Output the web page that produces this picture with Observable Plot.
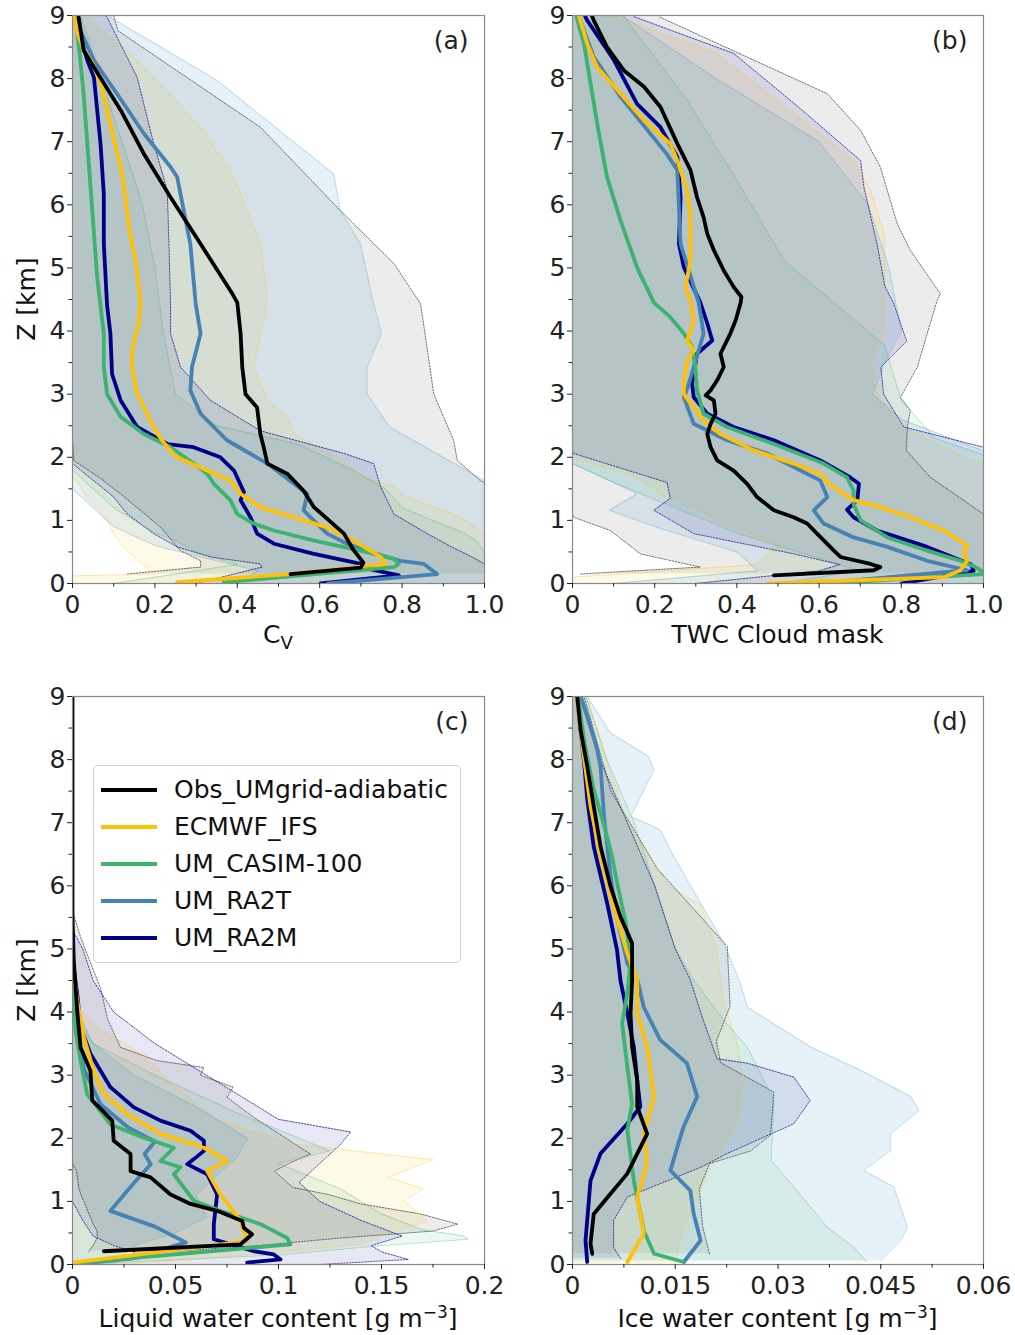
<!DOCTYPE html>
<html><head><meta charset="utf-8">
<script src="https://cdn.jsdelivr.net/npm/d3@7"></script>
<script src="https://cdn.jsdelivr.net/npm/@observablehq/plot@0.6"></script>
<style>
body{margin:0;background:#fff;font-family:"DejaVu Sans",sans-serif;}
#fig{position:relative;width:1015px;height:1335px;overflow:hidden;}
.panel{position:absolute;}
svg{overflow:visible;}
#legend{position:absolute;left:93px;top:765px;width:366px;height:196px;border:1px solid #d4d4d4;border-radius:5px;background:rgba(255,255,255,0.82);font-family:"DejaVu Sans",sans-serif;font-size:25px;color:#111;}
.lrow{position:absolute;left:0;height:30px;line-height:30px;white-space:nowrap;}
.lrow svg{position:absolute;left:7px;top:11px;}
.lrow span{position:absolute;left:80px;}
</style></head><body><div id="fig"></div><script>
// ---------- series ----------
const seriesNames = ["Obs_UMgrid-adiabatic","ECMWF_IFS","UM_CASIM-100","UM_RA2T","UM_RA2M"];
const seriesColors = ["#000000","#FFC107","#3CB371","#4682B4","#00008B"];
const bandFills = ["#000000","#FFC107","#3CB371","#3A9CC4","#00008B"];
const bandOpacity = [0.075,0.095,0.095,0.13,0.09];

// ---------- ticks ----------
const yMajor = [0,1,2,3,4,5,6,7,8,9];
const yMinor = [0.5,1.5,2.5,3.5,4.5,5.5,6.5,7.5,8.5];
const xTicksAB = [0,0.2,0.4,0.6,0.8,1.0];
const xLabelsAB = ["0","0.2","0.4","0.6","0.8","1.0"];
const xMinorAB = [0.1,0.3,0.5,0.7,0.9];
const xTicksC = [0,0.05,0.1,0.15,0.2];
const xLabelsC = ["0","0.05","0.1","0.15","0.2"];
const xMinorC = [0.025,0.075,0.125,0.175];
const xTicksD = [0,0.015,0.03,0.045,0.06];
const xLabelsD = ["0","0.015","0.03","0.045","0.06"];
const xMinorD = [0.0075,0.0225,0.0375,0.0525];

// ---------- panel (a): Cv, lines [value, Z km] ----------
const aObs = [[0.529,0.15],[0.70,0.25],[0.706,0.33],[0.68,0.55],[0.659,0.79],[0.586,1.21],[0.561,1.47],[0.521,1.74],[0.473,1.9],[0.464,2.16],[0.456,2.37],[0.448,2.79],[0.42,3.0],[0.412,3.43],[0.408,3.96],[0.40,4.45],[0.388,4.59],[0.311,5.38],[0.238,6.12],[0.173,6.81],[0.117,7.5],[0.052,8.18],[0.027,8.45],[0.015,8.97]];
const aIFS = [[0.254,0.02],[0.529,0.15],[0.76,0.31],[0.748,0.42],[0.683,0.68],[0.618,0.89],[0.537,1.05],[0.456,1.21],[0.408,1.42],[0.383,1.63],[0.327,1.79],[0.254,2.0],[0.23,2.16],[0.206,2.37],[0.181,2.69],[0.157,3.0],[0.145,3.43],[0.145,3.69],[0.161,4.12],[0.165,4.48],[0.153,5.11],[0.137,5.64],[0.125,6.31],[0.113,6.71],[0.093,7.25],[0.069,7.92],[0.048,8.25],[0.028,8.45],[0.012,8.72],[0.004,8.98]];
const aCASIM = [[0.367,0.02],[0.78,0.26],[0.792,0.31],[0.78,0.39],[0.699,0.52],[0.586,0.68],[0.489,0.84],[0.44,0.95],[0.40,1.1],[0.383,1.32],[0.343,1.58],[0.327,1.74],[0.294,1.9],[0.238,2.16],[0.173,2.37],[0.117,2.64],[0.084,3.0],[0.076,3.43],[0.076,3.96],[0.068,4.4],[0.06,4.85],[0.048,5.91],[0.036,6.97],[0.027,7.76],[0.019,8.29],[0.011,8.76],[0.007,8.97]];
const aRA2T = [[0.62,0.0],[0.885,0.15],[0.853,0.31],[0.796,0.36],[0.72,0.5],[0.66,0.65],[0.618,0.79],[0.561,1.16],[0.57,1.42],[0.473,1.9],[0.375,2.27],[0.311,2.69],[0.286,3.06],[0.29,3.43],[0.311,3.96],[0.299,4.43],[0.286,5.38],[0.254,6.44],[0.238,6.6],[0.173,7.13],[0.108,7.76],[0.052,8.29],[0.019,8.76],[0.007,9.0]];
const aRA2M = [[0.602,0.0],[0.792,0.13],[0.699,0.26],[0.70,0.31],[0.586,0.47],[0.489,0.63],[0.448,0.79],[0.432,1.05],[0.408,1.32],[0.416,1.45],[0.392,1.79],[0.359,2.0],[0.294,2.16],[0.23,2.21],[0.157,2.48],[0.117,2.9],[0.096,3.32],[0.092,3.96],[0.084,4.4],[0.076,5.38],[0.076,6.17],[0.068,6.97],[0.052,8.02],[0.036,8.29],[0.019,8.66],[0.007,8.97]];
// bands [Z km, lower, upper]
const aObsBand = [[0.15,0.133,1],[0.26,0.311,1],[0.36,0.311,1],[0.52,0.262,1],[0.89,0.214,1],[1.42,0.117,1],[1.6,0.08,1],[1.63,0.076,0.99],[1.95,0.003,0.934],[2.27,0,0.925],[3.0,0,0.877],[4.43,0,0.845],[5.07,0,0.78],[5.91,0,0.65],[7.23,0,0.456],[8.76,0,0.11],[9,0,0.1]];
const aIFSBand = [[0,0,1],[0.12,0,1],[0.15,0.2,1],[0.3,0.17,1],[0.6,0.12,1],[0.79,0.1,1],[1.05,0.08,0.942],[1.4,0.03,0.8],[1.53,0.02,0.78],[1.7,0,0.7],[1.95,0,0.659],[2.37,0,0.537],[2.64,0,0.521],[2.9,0,0.473],[3.43,0,0.44],[3.96,0,0.456],[4.48,0,0.473],[5.38,0,0.456],[6.44,0,0.392],[7.23,0,0.311],[8.45,0,0.133],[9,0,0.03]];
const aCASIMBand = [[0,0.1,1],[0.3,0.4,1],[0.5,0.3,1],[0.68,0.25,0.98],[0.8,0.2,0.95],[1.2,0.1,0.8],[1.5,0.05,0.76],[1.8,0,0.68],[2.2,0,0.55],[2.5,0,0.35],[3.0,0,0.25],[4.0,0,0.22],[5.0,0,0.2],[6.0,0,0.17],[7.0,0,0.12],[8.0,0,0.07],[9,0,0.02]];
const aRA2TBand = [[0,0.4,1],[0.2,0.45,1],[0.36,0.35,1],[0.6,0.2,1],[0.9,0.1,1],[1.2,0.05,1],[1.5,0,1],[1.63,0,1.0],[2.48,0,0.77],[3.0,0,0.715],[3.43,0,0.715],[3.96,0,0.75],[4.43,0,0.731],[5.38,0,0.699],[5.91,0,0.65],[6.49,0,0.634],[7.97,0,0.351],[8.97,0,0.092],[9,0,0.09]];
const aRA2MBand = [[0,0.3,1],[0.26,0.46,1],[0.31,0.456,1],[0.42,0.335,0.97],[0.58,0.254,0.92],[0.79,0.197,0.861],[1.1,0.133,0.78],[1.37,0.1,0.76],[1.53,0.07,0.748],[1.9,0.0,0.731],[2.06,0,0.659],[2.42,0,0.456],[2.9,0,0.335],[3.43,0,0.262],[3.96,0,0.238],[4.43,0,0.238],[5.38,0,0.234],[6.23,0,0.23],[6.97,0,0.197],[8.02,0,0.157],[8.97,0,0.084],[9,0,0.08]];

// ---------- panel (b): TWC cloud mask ----------
const bObs = [[0.49,0.13],[0.733,0.21],[0.749,0.26],[0.725,0.31],[0.652,0.42],[0.636,0.52],[0.595,0.79],[0.571,0.95],[0.538,1.05],[0.49,1.16],[0.449,1.37],[0.425,1.58],[0.392,1.79],[0.352,1.95],[0.336,2.16],[0.328,2.37],[0.336,2.53],[0.348,2.69],[0.344,2.9],[0.324,2.98],[0.336,3.06],[0.352,3.22],[0.368,3.43],[0.36,3.64],[0.384,3.96],[0.397,4.17],[0.409,4.45],[0.411,4.54],[0.392,4.7],[0.368,4.96],[0.344,5.28],[0.328,5.54],[0.319,5.8],[0.303,6.12],[0.287,6.55],[0.255,6.97],[0.214,7.55],[0.174,7.87],[0.125,8.13],[0.084,8.5],[0.052,8.92],[0.047,9.0]];
const bIFS = [[0.474,0.0],[0.904,0.1],[0.944,0.21],[0.96,0.36],[0.952,0.47],[0.96,0.6],[0.904,0.84],[0.822,1.05],[0.749,1.21],[0.684,1.32],[0.66,1.42],[0.62,1.6],[0.603,1.74],[0.538,1.9],[0.441,2.11],[0.36,2.37],[0.319,2.58],[0.295,2.79],[0.271,3.0],[0.271,3.22],[0.279,3.53],[0.295,3.69],[0.279,3.85],[0.295,4.17],[0.287,4.48],[0.275,4.7],[0.287,5.12],[0.287,5.8],[0.279,6.23],[0.255,6.7],[0.238,6.97],[0.174,7.34],[0.117,7.76],[0.06,8.18],[0.036,8.55],[0.019,8.92],[0.015,9.0]];
const bCASIM = [[0.62,0.0],[1.0,0.15],[0.993,0.21],[0.98,0.26],[0.944,0.36],[0.863,0.52],[0.766,0.73],[0.701,1.0],[0.684,1.26],[0.684,1.47],[0.668,1.68],[0.611,1.9],[0.49,2.21],[0.376,2.48],[0.319,2.69],[0.303,3.06],[0.299,3.43],[0.291,3.75],[0.271,3.96],[0.238,4.22],[0.198,4.45],[0.157,5.01],[0.117,5.75],[0.084,6.44],[0.06,7.29],[0.044,7.92],[0.028,8.55],[0.009,9.0]];
const bRA2T = [[0.6,0.0],[0.96,0.21],[0.863,0.36],[0.766,0.58],[0.684,0.73],[0.611,0.95],[0.587,1.16],[0.62,1.37],[0.603,1.63],[0.474,2.06],[0.376,2.27],[0.295,2.53],[0.271,2.95],[0.28,3.1],[0.295,3.43],[0.319,3.96],[0.307,4.45],[0.263,5.38],[0.255,6.55],[0.23,6.8],[0.117,7.71],[0.052,8.34],[0.019,8.92],[0.012,9.0]];
const bRA2M = [[0.8,0.0],[0.976,0.2],[0.97,0.3],[0.863,0.58],[0.741,0.84],[0.684,1.05],[0.668,1.17],[0.693,1.32],[0.697,1.58],[0.676,1.68],[0.603,1.95],[0.49,2.27],[0.392,2.48],[0.328,2.69],[0.295,2.95],[0.291,3.16],[0.303,3.64],[0.34,3.85],[0.328,4.12],[0.311,4.45],[0.271,5.01],[0.259,5.38],[0.263,6.12],[0.255,6.76],[0.214,7.23],[0.157,7.6],[0.101,8.29],[0.036,8.92],[0.03,9.0]];
const bObsBand = [[0.15,0.02,1],[0.26,0.311,1],[0.47,0.165,1],[0.84,0.092,1],[1.05,0.003,1],[1.1,0,1],[1.68,0,0.871],[2.11,0,0.812],[2.5,0,0.815],[2.74,0,0.822],[2.95,0,0.798],[3.43,0,0.839],[3.96,0,0.863],[4.48,0,0.887],[4.59,0,0.895],[5.28,0,0.822],[5.7,0,0.79],[6.6,0,0.749],[7.18,0,0.701],[7.76,0,0.62],[8.97,0,0.214],[9,0,0.21]];
const bIFSBand = [[0,0,1],[0.1,0,1],[0.3,0.45,1],[0.6,0.5,1],[1.0,0.35,1],[1.4,0.22,1],[1.7,0.15,1],[1.9,0.05,1],[2.0,0,0.95],[2.5,0,0.8],[3.0,0,0.74],[3.5,0,0.73],[4.0,0,0.76],[4.5,0,0.76],[5.5,0,0.76],[6.23,0,0.725],[6.7,0,0.684],[7.5,0,0.53],[8.4,0,0.35],[9,0,0.1]];
const bCASIMBand = [[0,0.5,1],[0.2,0.7,1],[0.5,0.55,1],[0.8,0.4,1],[1.2,0.25,1],[1.6,0.1,1],[1.9,0,1],[2.04,0,1.0],[2.3,0,0.882],[2.9,0,0.8],[3.77,0,0.76],[4.44,0,0.638],[5.11,0,0.516],[6.45,0,0.394],[7.65,0,0.28],[8.98,0,0.126],[9,0,0.12]];
const bRA2TBand = [[0,0.1,1],[0.2,0.45,1],[0.5,0.4,1],[0.9,0.2,1],[1.16,0.09,1],[1.42,0.157,1],[1.6,0.1,1],[1.9,0,1],[2.1,0,1.0],[2.6,0,0.8],[3.0,0,0.73],[3.5,0,0.76],[4.0,0,0.8],[5.0,0,0.77],[6.0,0,0.72],[7.0,0,0.6],[8.0,0,0.35],[9,0,0.12]];
const bRA2MBand = [[0,0.3,1],[0.2,0.6,1],[0.3,0.65,1],[0.47,0.538,1],[0.79,0.295,1],[1.16,0.198,1],[1.35,0.238,1],[1.6,0.23,1],[2.06,0.003,1],[2.1,0,1],[2.16,0,1.0],[2.48,0,0.806],[3.0,0,0.757],[3.43,0,0.75],[3.84,0,0.813],[4.43,0,0.782],[4.71,0,0.76],[5.38,0,0.741],[6.28,0,0.709],[6.7,0,0.701],[7.51,0,0.557],[8.4,0,0.392],[8.98,0,0.15],[9,0,0.15]];

// ---------- panel (c): liquid water content ----------
const cObs = [[0.0152,0.21],[0.0816,0.32],[0.0872,0.48],[0.0832,0.58],[0.0824,0.69],[0.0702,0.85],[0.0573,0.96],[0.0476,1.11],[0.0379,1.38],[0.0282,1.48],[0.0282,1.75],[0.02,1.96],[0.0193,2.28],[0.0096,2.6],[0.0087,3.07],[0.0039,3.44],[0.0023,4.02],[0.0006,4.82],[0,5.5],[0,9]];
const cIFS = [[0,0.03],[0.0848,0.37],[0.0816,0.69],[0.0718,1.11],[0.0654,1.48],[0.0751,1.64],[0.0638,1.85],[0.0427,2.07],[0.0266,2.38],[0.0152,2.7],[0.0103,3.07],[0.0055,3.6],[0.0023,4.18],[0.0006,4.66],[0,5.2]];
const cCASIM = [[0,0.02],[0.1058,0.32],[0.1042,0.42],[0.0913,0.64],[0.0718,0.85],[0.0589,1.01],[0.0492,1.43],[0.0524,1.54],[0.0427,1.64],[0.0492,1.85],[0.0346,2.01],[0.0184,2.22],[0.0071,2.7],[0.0039,3.23],[0.0015,3.7],[0.0006,4.3],[0,5.0]];
const cRA2T = [[0,0.0],[0.03,0.1],[0.055,0.35],[0.04,0.6],[0.0184,0.85],[0.03,1.3],[0.038,1.59],[0.035,1.75],[0.04,1.95],[0.027,2.17],[0.0136,2.54],[0.0055,3.1],[0.0023,3.7],[0,4.2]];
const cRA2M = [[0.0848,0.03],[0.101,0.08],[0.0977,0.16],[0.088,0.21],[0.0686,0.4],[0.0686,0.64],[0.0702,1.11],[0.0654,1.43],[0.0557,1.59],[0.0589,1.67],[0.0638,1.8],[0.0638,1.96],[0.0573,2.12],[0.0427,2.28],[0.0298,2.49],[0.0184,2.81],[0.0087,3.34],[0.0039,3.76],[0.0023,4.29],[0,4.82]];
const cObsBand = [[0.21,0.008,0.05],[0.3,0.01,0.09],[0.42,0.012,0.13],[0.53,0.012,0.175],[0.64,0.01,0.187],[0.8,0.008,0.169],[0.96,0.006,0.14],[1.11,0.004,0.124],[1.22,0.003,0.107],[1.48,0.002,0.098],[1.6,0,0.105],[1.75,0,0.1155],[2.33,0,0.088],[2.65,0,0.075],[2.81,0,0.078],[3.0,0,0.062],[3.12,0,0.0638],[3.23,0,0.0411],[3.44,0,0.0233],[3.89,0,0.017],[4.36,0,0.0138],[5.18,0,0.004],[5.6,0,0],[9,0,0]];
const cIFSBand = [[0,0,0],[0.05,0,0.05],[0.2,0,0.1],[0.32,0,0.14],[0.45,0,0.15],[0.69,0,0.172],[1.01,0,0.161],[1.2,0,0.17],[1.38,0,0.153],[1.66,0,0.175],[1.91,0,0.107],[2.3,0,0.07],[2.8,0,0.05],[3.3,0,0.035],[3.5,0,0.025],[3.8,0,0.01],[4.2,0,0],[9,0,0]];
const cCASIMBand = [[0,0,0],[0.15,0,0.1],[0.3,0,0.15],[0.4,0,0.192],[0.45,0,0.19],[0.55,0,0.17],[0.8,0,0.15],[1.2,0,0.13],[1.4,0,0.115],[1.6,0,0.1],[1.8,0,0.125],[2.4,0,0.08],[3.0,0,0.04],[3.5,0,0.01],[4.0,0,0],[9,0,0]];
const cRA2TBand = [[0,0,0.02],[0.3,0,0.03],[0.5,0,0.05],[0.75,0,0.065],[1.1,0,0.06],[1.4,0,0.07],[1.7,0,0.08],[2.0,0,0.085],[2.5,0,0.06],[3.0,0,0.03],[3.5,0,0.01],[4.2,0,0],[9,0,0]];
const cRA2MBand = [[0,0,0.12],[0.08,0.03,0.163],[0.2,0.03,0.15],[0.3,0.02,0.145],[0.45,0.01,0.16],[0.7,0.005,0.14],[1.0,0,0.12],[1.3,0,0.11],[1.6,0,0.12],[1.9,0,0.13],[2.1,0,0.135],[2.3,0,0.1],[2.8,0,0.075],[3.5,0,0.04],[4.0,0,0.02],[4.5,0,0.01],[5.0,0,0.005],[5.3,0,0],[9,0,0]];

// ---------- panel (d): ice water content ----------
const dObs = [[0.00288,0.17],[0.00263,0.33],[0.0031,0.8],[0.00555,1.12],[0.008,1.44],[0.0109,2.07],[0.00945,2.5],[0.00945,2.92],[0.0087,3.45],[0.00847,3.98],[0.0087,4.5],[0.0087,5.09],[0.007,5.51],[0.00555,5.99],[0.0041,6.62],[0.0031,7.26],[0.00215,7.89],[0.00117,8.48],[0.00069,9.0]];
const dIFS = [[0.008,0.04],[0.0104,0.49],[0.00945,1.07],[0.0109,1.6],[0.0104,2.07],[0.0119,2.66],[0.0109,3.45],[0.00945,3.98],[0.00945,4.5],[0.008,4.93],[0.006,5.67],[0.0041,6.46],[0.00263,7.26],[0.00165,8.05],[0.0008,8.8],[0.0006,9.0]];
const dCASIM = [[0.01625,0.04],[0.0119,0.17],[0.0104,0.54],[0.00895,1.33],[0.008,2.13],[0.0087,2.55],[0.008,3.13],[0.00725,3.82],[0.008,4.3],[0.0085,4.8],[0.0078,5.4],[0.0066,6.0],[0.0057,6.5],[0.0045,7.0],[0.0031,7.52],[0.0017,8.3],[0.0008,9.0]];
const dRA2T = [[0.01625,0.04],[0.0187,0.38],[0.0177,0.8],[0.0172,1.17],[0.0143,1.49],[0.0153,1.86],[0.0162,2.18],[0.0182,2.66],[0.0167,3.19],[0.0128,3.56],[0.0104,4.08],[0.0095,4.5],[0.008,4.77],[0.0065,5.5],[0.0055,6.2],[0.0046,7.1],[0.0041,7.89],[0.0036,8.16],[0.00215,8.69],[0.0012,9.0]];
const dRA2M = [[0.00215,0.04],[0.0019,0.38],[0.00263,1.33],[0.0041,1.76],[0.008,2.23],[0.0099,2.5],[0.00945,2.92],[0.00895,3.45],[0.008,3.98],[0.007,4.5],[0.0065,4.98],[0.00507,5.72],[0.0031,6.62],[0.00215,7.37],[0.0017,7.95],[0.0007,8.95]];
const dObsBand = [[0.17,0,0.02],[0.6,0,0.019],[1.2,0,0.0185],[1.6,0,0.02],[1.8,0,0.026],[2.05,0,0.0289],[2.73,0,0.0294],[3.2,0,0.0216],[3.54,0,0.021],[4.09,0,0.023],[5.04,0,0.0226],[6.27,0,0.0124],[7.5,0,0.0056],[9,0,0.0017]];
const dIFSBand = [[0,0,0.015],[0.5,0,0.016],[1.0,0,0.018],[1.5,0,0.02],[2.2,0,0.024],[2.9,0,0.025],[3.5,0,0.024],[4.2,0,0.022],[5.0,0,0.021],[5.7,0,0.0187],[6.0,0,0.014],[7.0,0,0.008],[8.0,0,0.005],[9,0,0.002]];
const dCASIMBand = [[0.04,0,0.043],[0.27,0,0.0411],[0.59,0,0.0372],[1.23,0,0.0323],[1.65,0,0.029],[2.6,0,0.0294],[3.45,0,0.0255],[3.87,0,0.0221],[4.51,0,0.0177],[5.0,0,0.015],[6.0,0,0.012],[7.0,0,0.009],[8.0,0,0.005],[9,0,0.002]];
const dRA2TBand = [[0.06,0,0.045],[0.4,0,0.048],[0.59,0,0.0489],[1.23,0,0.0469],[1.49,0,0.0425],[1.8,0,0.0464],[2.07,0,0.0464],[2.44,0,0.0506],[2.66,0,0.0494],[3.08,0,0.042],[3.45,0,0.0347],[4.08,0,0.0255],[4.46,0,0.0245],[5.09,0,0.0221],[6.46,0,0.0148],[6.89,0,0.0128],[7.1,0,0.0085],[7.84,0,0.0119],[8.05,0,0.0111],[8.42,0,0.00555],[9.0,0,0.00215]];
const dRA2MBand = [[0.1,0,0.007],[0.27,0,0.006],[0.7,0,0.006],[1.07,0,0.008],[1.54,0,0.0187],[1.76,0,0.0226],[2.23,0,0.0323],[2.6,0,0.0347],[2.97,0,0.0323],[3.19,0,0.0255],[3.26,0,0.0211],[3.9,0,0.019],[4.51,0,0.0172],[5.0,0,0.015],[6.0,0,0.012],[7.0,0,0.008],[8.0,0,0.004],[9,0,0.001]];

// ---------- drawing ----------
const FONT = "DejaVu Sans";
function makePanel(cfg) {
  const labelMap = new Map(cfg.xTicks.map((t, i) => [t, cfg.xLabels[i]]));
  const marks = [];
  cfg.bands.forEach((b, i) => {
    marks.push(Plot.areaX(b, {y: d => d[0], x1: d => d[1], x2: d => d[2], fill: bandFills[i], fillOpacity: bandOpacity[i], curve: "linear", clip: true}));
  });
  cfg.bands.forEach((b, i) => {
    const dotted = (i === 0 || i === 4);
    const o = {y: d => d[0], stroke: i === 0 ? "#333" : bandFills[i], strokeWidth: dotted ? 1 : 0.9,
      strokeOpacity: dotted ? 0.7 : 0.4, clip: true, curve: "linear"};
    if (dotted) o.strokeDasharray = "1.5,1.5";
    marks.push(Plot.lineX(b, {...o, x: d => d[1]}));
    marks.push(Plot.lineX(b, {...o, x: d => d[2]}));
  });
  [4, 3, 2, 1, 0].forEach(i => {
    marks.push(Plot.line(cfg.lines[i], {x: d => d[0], y: d => d[1], stroke: seriesColors[i], strokeWidth: 3.8, clip: true, curve: "linear"}));
  });
  marks.push(Plot.frame({stroke: "#888", strokeWidth: 1.2}));
  marks.push(Plot.axisX({ticks: cfg.xTicks, tickSize: 5, tickPadding: 7, tickFormat: d => labelMap.get(d), label: null}));
  marks.push(Plot.axisX({ticks: cfg.xMinor, tickSize: 3.5, tickFormat: () => "", label: null}));
  marks.push(Plot.axisY({ticks: yMajor, tickSize: 5, tickPadding: 2, tickFormat: d => String(d), label: null}));
  marks.push(Plot.axisY({ticks: yMinor, tickSize: 3.5, tickFormat: () => "", label: null}));
  marks.push(Plot.text([cfg.label], {text: d => d, frameAnchor: "top-right", dx: -16, dy: 16, textAnchor: "end", lineAnchor: "top", fontSize: 25}));
  const chart = Plot.plot({
    width: cfg.w, height: cfg.h,
    marginLeft: 72, marginRight: cfg.mr, marginTop: cfg.mt, marginBottom: cfg.mb,
    x: {domain: cfg.xDomain, label: null},
    y: {domain: [0, 9], label: null},
    style: {fontFamily: FONT, fontSize: "25px", color: "#222", background: "transparent"},
    marks
  });
  chart.classList.add("panel");
  chart.style.left = cfg.left + "px";
  chart.style.top = cfg.top + "px";
  return chart;
}

const fig = document.getElementById("fig");
fig.appendChild(makePanel({left: 0, top: 0, w: 500, h: 660, mr: 16, mt: 15, mb: 77, xDomain: [0, 1],
  xTicks: xTicksAB, xLabels: xLabelsAB, xMinor: xMinorAB, label: "(a)",
  lines: [aObs, aIFS, aCASIM, aRA2T, aRA2M], bands: [aObsBand, aIFSBand, aCASIMBand, aRA2TBand, aRA2MBand]}));
fig.appendChild(makePanel({left: 500, top: 0, w: 500, h: 660, mr: 17, mt: 15, mb: 77, xDomain: [0, 1],
  xTicks: xTicksAB, xLabels: xLabelsAB, xMinor: xMinorAB, label: "(b)",
  lines: [bObs, bIFS, bCASIM, bRA2T, bRA2M], bands: [bObsBand, bIFSBand, bCASIMBand, bRA2TBand, bRA2MBand]}));
fig.appendChild(makePanel({left: 0, top: 660, w: 500, h: 675, mr: 16, mt: 36, mb: 71, xDomain: [0, 0.2],
  xTicks: xTicksC, xLabels: xLabelsC, xMinor: xMinorC, label: "(c)",
  lines: [cObs, cIFS, cCASIM, cRA2T, cRA2M], bands: [cObsBand, cIFSBand, cCASIMBand, cRA2TBand, cRA2MBand]}));
fig.appendChild(makePanel({left: 500, top: 660, w: 500, h: 675, mr: 17, mt: 36, mb: 71, xDomain: [0, 0.06],
  xTicks: xTicksD, xLabels: xLabelsD, xMinor: xMinorD, label: "(d)",
  lines: [dObs, dIFS, dCASIM, dRA2T, dRA2M], bands: [dObsBand, dIFSBand, dCASIMBand, dRA2TBand, dRA2MBand]}));

// axis titles
const NS = "http://www.w3.org/2000/svg";
const ov = document.createElementNS(NS, "svg");
ov.setAttribute("width", 1015); ov.setAttribute("height", 1335);
ov.style.position = "absolute"; ov.style.left = "0"; ov.style.top = "0"; ov.style.pointerEvents = "none";
ov.innerHTML = `
<g font-family="DejaVu Sans" font-size="25" fill="#111">
 <text transform="translate(35,299) rotate(-90)" text-anchor="middle">Z [km]</text>
 <text transform="translate(35,980) rotate(-90)" text-anchor="middle">Z [km]</text>
 <text x="278" y="643" text-anchor="middle">C<tspan font-size="18" dy="6">V</tspan></text>
 <text x="777.5" y="643" text-anchor="middle">TWC Cloud mask</text>
 <text x="278" y="1327" text-anchor="middle">Liquid water content [g m<tspan font-size="17" dy="-9">−3</tspan><tspan dy="9">]</tspan></text>
 <text x="777.5" y="1327" text-anchor="middle">Ice water content [g m<tspan font-size="17" dy="-9">−3</tspan><tspan dy="9">]</tspan></text>
</g>`;
fig.appendChild(ov);

// legend (panel c)
const leg = document.createElement("div");
leg.id = "legend";
seriesNames.forEach((name, i) => {
  const row = document.createElement("div");
  row.className = "lrow";
  row.style.top = (9 + i * 37) + "px";
  row.innerHTML = `<svg width="56" height="8"><line x1="0" y1="4" x2="56" y2="4" stroke="${seriesColors[i]}" stroke-width="4"/></svg><span>${name}</span>`;
  leg.appendChild(row);
});
fig.appendChild(leg);
</script></body></html>
